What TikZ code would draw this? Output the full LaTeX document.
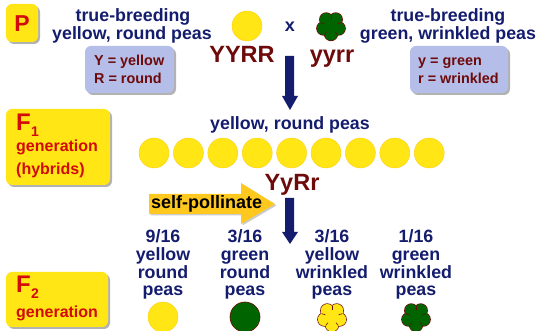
\documentclass[tikz,border=0pt]{standalone}
\usepackage{fontspec}
\setmainfont{Liberation Sans}
\usetikzlibrary{shadows}
\definecolor{navy}{HTML}{141C6E}
\definecolor{maroon}{HTML}{6E0A0A}
\definecolor{peaY}{HTML}{FFE614}
\definecolor{peaG}{HTML}{006400}
\definecolor{keyb}{HTML}{B4BEE8}
\definecolor{redt}{HTML}{D20A0A}
\definecolor{gold}{HTML}{FFC81E}
\tikzset{
 x=1pt,y=-1pt,
 ylabel/.style={font=\fontsize{16}{16}\bfseries\selectfont,text=redt,anchor=base west,inner sep=0},
 genbox/.style={fill=peaY,rounded corners=6pt,drop shadow={shadow xshift=2pt,shadow yshift=-2pt,fill=black,opacity=.3}},
 keybox/.style={fill=keyb,rounded corners=6pt,drop shadow={shadow xshift=2pt,shadow yshift=-2pt,fill=black,opacity=.3}},
 head/.style={font=\fontsize{17.8}{18}\bfseries\selectfont,text=navy,inner sep=0,anchor=base},
 keytext/.style={font=\fontsize{14.4}{14}\bfseries\selectfont,text=maroon,anchor=base west,inner sep=0},
 geno/.style={font=\fontsize{23.5}{24}\bfseries\selectfont,text=maroon,inner sep=0,anchor=base},
 smooth pea/.style={circle,minimum size=30pt,inner sep=0,fill=#1},
 darrow/.style={fill=navy},
 pics/wrinkled/.style 2 args={code={
  \foreach \a in {18,90,162,234,306}{
    \fill[#2] (\a:8) circle (7.2pt);
  }
  \foreach \a in {18,90,162,234,306}{
    \fill[#1] (\a:8) circle (6.5pt);
  }
  \fill[#1] (0,0) circle (8pt);
  \foreach \a in {54,126,198,270,342}{
    \draw[#2,line width=.6pt] (\a:10.5) -- (\a:7);
  }
 }}
}
\begin{document}
\begin{tikzpicture}
\useasboundingbox (0,0) rectangle (550,331);
\fill[white] (0,0) rectangle (550,331);
% P
\path[genbox] (6,4) rectangle (38,42);
\node[font=\fontsize{23}{23}\bfseries\selectfont,text=redt,inner sep=0,anchor=base] (p) at (22,32) {P};
\node[head] (tb1) at (133,22) {true-breeding};
\node[head] (yr1) at (132,40) {yellow, round peas};
\node[smooth pea=peaY,draw=gold!80!peaY,line width=.4pt] (pea1) at (247,26) {};
\node[geno] (g1) at (242,63) {YYRR};
\node[head,font=\fontsize{18}{18}\bfseries\selectfont] (xx) at (290,32) {x};
\pic at (331,26) {wrinkled={peaG}{maroon}};
\node[geno] (g2) at (332,63) {yyrr};
\node[head] (tb2) at (448,22) {true-breeding};
\node[head] (gw2) at (448,40) {green, wrinkled peas};
\path[keybox] (85,46) rectangle (174,93);
\node[keytext] (k1) at (94,66) {Y = yellow};
\node[keytext] (k2) at (94,84) {R = round};
\path[keybox] (410,46) rectangle (508,93);
\node[keytext] (k3) at (418,66) {y = green};
\node[keytext] (k4) at (418,84) {r = wrinkled};
\fill[darrow] (285,56) -- (294,56) -- (294,96) -- (298,96) -- (290,110) -- (282,96) -- (285,96) -- cycle;
% F1
\path[genbox] (6,109) rectangle (110,185);
\node[ylabel,font=\fontsize{24}{24}\bfseries\selectfont] (f1) at (16,131) {F};
\node[ylabel,font=\fontsize{14}{14}\bfseries\selectfont] (f1s) at (31,137) {1};
\node[ylabel] (f1g) at (16,152) {generation};
\node[ylabel] (f1h) at (16,175) {(hybrids)};
\node[head] (yr2) at (290,130) {yellow, round peas};
\foreach \i in {0,...,8}{
  \node[smooth pea=peaY,draw=gold!80!peaY,line width=.4pt] (c\i) at (154+34.4*\i,153) {};
}
\node[geno] (g3) at (292,191) {YyRr};
\fill[gold,drop shadow={shadow xshift=1.5pt,shadow yshift=-1.5pt,fill=black,opacity=.2}] (149,194) -- (241,194) -- (241,183) -- (275,204) -- (241,224) -- (241,214) -- (149,214) -- cycle;
\node[font=\fontsize{18}{18}\bfseries\selectfont,text=black,anchor=base west,inner sep=0] (sp) at (151,209) {self-pollinate};
\fill[darrow] (285,198) -- (294,198) -- (294,232) -- (298,232) -- (290,244) -- (282,232) -- (285,232) -- cycle;
% F2
\path[genbox] (6,272) rectangle (108,327);
\node[ylabel,font=\fontsize{24}{24}\bfseries\selectfont] (f2) at (16,293) {F};
\node[ylabel,font=\fontsize{14}{14}\bfseries\selectfont] (f2s) at (31,299) {2};
\node[ylabel] (f2g) at (16,318) {generation};
\foreach \x/\a/\b/\c in {163/9\slash 16/yellow/round,245/3\slash 16/green/round,332/3\slash 16/yellow/wrinkled,416/1\slash 16/green/wrinkled}{
  \node[head] at (\x,243) {\a};
  \node[head] at (\x,261) {\b};
  \node[head] at (\x,279) {\c};
  \node[head] at (\x,296) {peas};
}
\node[smooth pea=peaY,draw=gold!80!peaY,line width=.4pt] (r1) at (163,317) {};
\node[smooth pea=peaG,draw=maroon,line width=.6pt] (r2) at (245,317) {};
\pic at (332,317) {wrinkled={peaY}{maroon}};
\pic at (416,317) {wrinkled={peaG}{maroon}};
\end{tikzpicture}
\end{document}
